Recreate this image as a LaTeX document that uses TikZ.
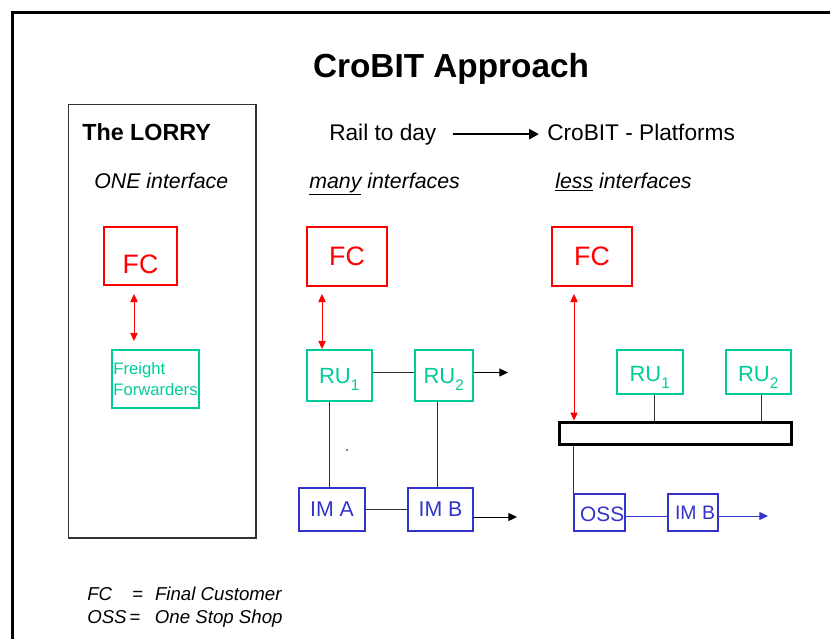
\documentclass[tikz,border=0pt]{standalone}
\usepackage{fontspec}
\setmainfont{Liberation Sans}
\usetikzlibrary{arrows.meta}

\definecolor{fcred}{RGB}{255,0,0}
\definecolor{rugreen}{RGB}{0,204,153}
\definecolor{imblue}{RGB}{51,51,204}
\definecolor{linegray}{RGB}{50,50,50}

\begin{document}
\begin{tikzpicture}[x=0.75pt,y=0.75pt,yscale=-1,xscale=1,
  fcbox/.style={draw=fcred,line width=1.5pt,text=fcred,inner sep=0pt,font=\fontsize{20}{24}\selectfont},
  rubox/.style={draw=rugreen,line width=1.5pt,text=rugreen,inner sep=0pt,font=\fontsize{16.5}{20}\selectfont},
  imbox/.style={draw=imblue,line width=1.5pt,text=imblue,inner sep=0pt,font=\fontsize{16}{19}\selectfont},
  link/.style={draw=linegray,line width=0.75pt},
  fclink/.style={draw=fcred,line width=0.75pt,{Triangle[length=6pt,width=5.5pt]}-{Triangle[length=6pt,width=5.5pt]}},
  exitarrow/.style={draw=black,line width=0.75pt,-{Triangle[length=6.5pt,width=6pt]}},
  headtext/.style={inner sep=0pt,anchor=base west,font=\fontsize{17}{20}\selectfont},
  subtext/.style={inner sep=0pt,anchor=base west,font=\fontsize{16}{19}\selectfont\itshape},
  legtext/.style={inner sep=0pt,anchor=base west,font=\fontsize{14}{17}\selectfont\itshape}
]
\useasboundingbox (0,0) rectangle (830,639);

%Frame
\draw [line width=2.5pt] (12.5,639) -- (12.5,12.5) -- (830,12.5) ;

%Title
\node [inner sep=0pt,anchor=base,font=\fontsize{25}{30}\selectfont\bfseries] (title) at (451,77) {CroBIT Approach};

%Shape: Rectangle (LORRY panel)
\draw [draw=linegray,line width=0.9pt] (68.5,104.5) rectangle (256,538) ;

%Text
\node [headtext,font=\fontsize{17.5}{20}\selectfont\bfseries] (lorry) at (82,140) {The LORRY};
\node [subtext] (oneif) at (94,188) {ONE interface};
\node [headtext] (rail) at (329,140) {Rail to day};
\node [headtext] (plat) at (547,140) {CroBIT - Platforms};
\node [subtext] (manyif) at (309,188) {\underline{many} interfaces};
\node [subtext] (lessif) at (555,188) {\underline{less} interfaces};

%Straight Lines (Rail to day -> CroBIT)
\draw [line width=1.9pt,-{Triangle[length=7.5pt,width=7.5pt]},shorten <=12pt,shorten >=6pt] (rail.east) -- (rail.east -| plat.west) ;

%Left panel
\node [fcbox,minimum width=54.75pt,minimum height=43.5pt,text height=26.3pt,text depth=0pt] (fcA) at (140.5,256) {FC};
\node [rubox,minimum width=65.25pt,minimum height=43.5pt,align=left,font=\fontsize{12.5}{15.75}\selectfont] (ffA) at (155.5,379) {Freight\\Forwarders};
\draw [fclink,shorten <=6pt,shorten >=6pt] ([xshift=-4.875pt]fcA.south) -- ([xshift=-16.125pt]ffA.north) ;

%Middle panel
\node [fcbox,minimum width=60pt,minimum height=44.25pt] (fcB) at (347,256.5) {FC};
\node [rubox,minimum width=48.75pt,minimum height=38.25pt,text height=12pt,text depth=0pt] (ruB1) at (339.5,375.5) {RU\raisebox{-3pt}{\textsubscript{1}}};
\node [rubox,minimum width=43.5pt,minimum height=38.25pt,text height=12pt,text depth=0pt] (ruB2) at (444,375.5) {RU\raisebox{-3pt}{\textsubscript{2}}};
\node [imbox,minimum width=49.5pt,minimum height=32.25pt] (imA) at (332,509.5) {IM A};
\node [imbox,minimum width=48.75pt,minimum height=32.25pt] (imB) at (440.5,509.5) {IM B};
\coordinate (ruOut) at (508,372.5);
\coordinate (imOut) at (517,517);

\draw [fclink,shorten <=5.25pt] ([xshift=-18.75pt]fcB.south) -- ([xshift=-13.125pt]ruB1.north) ;
\draw [link] ([yshift=-2.25pt]ruB1.east) -- ([yshift=-2.25pt]ruB2.west) ;
\draw [exitarrow] ([yshift=-2.25pt]ruB2.east) -- (ruOut) ;
\draw [link] ([xshift=-7.875pt]ruB1.south) -- ([xshift=-7.875pt]ruB1.south |- imA.north) ;
\draw [link] ([xshift=-5.25pt]ruB2.south) -- ([xshift=-5.25pt]ruB2.south |- imB.north) ;
\draw [link] (imA.east) -- (imB.west) ;
\draw [exitarrow] ([yshift=5.625pt]imB.east) -- (imOut) ;
\fill (347,450) circle (0.9) ;

%Right panel
\node [fcbox,minimum width=60pt,minimum height=44.25pt] (fcC) at (592,256.5) {FC};
\node [rubox,minimum width=49.5pt,minimum height=33pt,text height=14pt,text depth=0pt] (ruC1) at (650,372) {RU\raisebox{-3pt}{\textsubscript{1}}};
\node [rubox,line width=1.1pt,minimum width=48.75pt,minimum height=33pt,text height=14pt,text depth=0pt] (ruC2) at (758.5,372) {RU\raisebox{-3pt}{\textsubscript{2}}};
\node [draw=black,line width=2.25pt,inner sep=0pt,minimum width=174pt,minimum height=16.5pt] (bar) at (675,433) {};
\node [imbox,minimum width=38.25pt,minimum height=27.75pt,font=\fontsize{15.6}{18}\selectfont,text height=13.5pt,text depth=0pt] (oss) at (599.5,512.5) {\hspace{4pt}OSS};
\node [imbox,minimum width=37.5pt,minimum height=27.75pt,font=\fontsize{14.6}{17}\selectfont] (imC) at (693,512.5) {\hspace{3pt}IM B};
\coordinate (ossOut) at (768,516);

\draw [fclink,shorten <=5.25pt] ([xshift=-13.5pt]fcC.south) -- ([xshift=-75.75pt]bar.north) ;
\draw [link] ([xshift=3pt]ruC1.south) -- ([xshift=3pt]ruC1.south |- bar.north) ;
\draw [link] ([xshift=2.6pt]ruC2.south) -- ([xshift=2.6pt]ruC2.south |- bar.north) ;
\draw [link] (bar.south -| oss.north west) -- (oss.north west) ;
\draw [draw=imblue,line width=0.75pt] ([yshift=2.625pt]oss.east) -- ([yshift=2.625pt]imC.west) ;
\draw [draw=imblue,line width=0.75pt,-{Triangle[length=6.5pt,width=6pt]}] ([yshift=2.625pt]imC.east) -- (ossOut) ;

%Legend
\node [legtext] (legFC) at (87,600) {FC\hspace{15pt}=\hspace{9pt}Final Customer};
\node [legtext] (legOSS) at (87,623) {OSS\hspace{2pt}=\hspace{11pt}One Stop Shop};

\end{tikzpicture}
\end{document}
